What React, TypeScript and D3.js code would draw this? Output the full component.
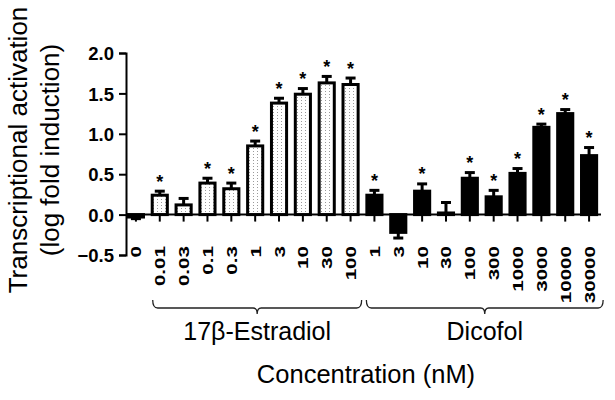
import { useEffect, useRef } from 'react';
import * as d3 from 'd3';

const estradiolDoses = ['0', '0.01', '0.03', '0.1', '0.3', '1', '3', '10', '30', '100'];
const estradiolMeans = [-0.03, 0.24, 0.12, 0.39, 0.32, 0.85, 1.38, 1.49, 1.63, 1.61];
const estradiolErrors = [0.02, 0.05, 0.08, 0.06, 0.07, 0.06, 0.06, 0.07, 0.08, 0.08];
const estradiolStars = [false, true, false, true, true, true, true, true, true, true];

const dicofolDoses = ['1', '3', '10', '30', '100', '300', '1000', '3000', '10000', '30000'];
const dicofolMeans = [0.24, -0.22, 0.29, 0.02, 0.45, 0.22, 0.51, 1.08, 1.25, 0.73];
const dicofolErrors = [0.06, 0.07, 0.09, 0.13, 0.07, 0.08, 0.06, 0.04, 0.05, 0.1];
const dicofolStars = [true, false, true, false, true, true, true, true, true, true];

const yTicks = [-0.5, 0, 0.5, 1, 1.5, 2];

const FONT = "Arial, 'Liberation Sans', sans-serif";

type Bar = { id: string; dose: string; group: string; mean: number; err: number; star: boolean };

const bars: Bar[] = [
  ...estradiolDoses.map((d, i) => ({
    id: 'e' + i, dose: d, group: 'E2', mean: estradiolMeans[i], err: estradiolErrors[i], star: estradiolStars[i]
  })),
  ...dicofolDoses.map((d, i) => ({
    id: 'd' + i, dose: d, group: 'Dicofol', mean: dicofolMeans[i], err: dicofolErrors[i], star: dicofolStars[i]
  }))
];

export default function App() {
  const ref = useRef<SVGSVGElement>(null);

  useEffect(() => {
    const width = 615;
    const height = 400;
    const svg = d3.select(ref.current).attr('width', width).attr('height', height);
    svg.selectAll('*').remove();

    const defs = svg.append('defs');
    const pat = defs.append('pattern')
      .attr('id', 'dots')
      .attr('patternUnits', 'userSpaceOnUse')
      .attr('width', 4)
      .attr('height', 3);
    pat.append('rect').attr('width', 4).attr('height', 3).attr('fill', '#fff');
    pat.append('rect').attr('x', 1).attr('y', 1).attr('width', 1).attr('height', 1).attr('fill', '#9a9a9a');

    const xScale = d3.scaleBand<string>()
      .domain(bars.map((d) => d.id))
      .range([124, 601])
      .paddingInner(0.24)
      .paddingOuter(0.12);
    const yScale = d3.scaleLinear().domain([-0.5, 2]).range([255, 53]);
    const bw = xScale.bandwidth();
    const cx = (d: Bar) => (xScale(d.id) as number) + bw / 2;
    const axisX = 126;

    // y axis
    const yAxis = d3.axisLeft(yScale)
      .tickValues(yTicks)
      .tickFormat(d3.format('.1f'))
      .tickSize(7)
      .tickSizeOuter(7)
      .tickPadding(5);
    const yg = svg.append('g').attr('transform', `translate(${axisX},0)`).call(yAxis);
    yg.selectAll('path, line').attr('stroke', '#000').attr('stroke-width', 2);
    yg.selectAll('text')
      .attr('font-family', FONT)
      .attr('font-size', 18.5)
      .attr('font-weight', 'bold')
      .attr('fill', '#000')
      .attr('dy', '0.36em');

    // bars
    svg.selectAll('rect.bar')
      .data(bars)
      .join('rect')
      .attr('class', 'bar')
      .attr('x', (d) => (xScale(d.id) as number) + 1.5)
      .attr('width', bw - 3)
      .attr('y', (d) => yScale(Math.max(d.mean, 0)))
      .attr('height', (d) => Math.abs(yScale(d.mean) - yScale(0)))
      .attr('fill', (d) => (d.group === 'E2' ? 'url(#dots)' : '#000'))
      .attr('stroke', '#000')
      .attr('stroke-width', 3);

    // error bars
    const errEnd = (d: Bar) => yScale(d.mean >= 0 ? d.mean + d.err : d.mean - d.err);
    const eg = svg.append('g').attr('stroke', '#000').attr('stroke-width', 3);
    eg.selectAll('line.v')
      .data(bars)
      .join('line')
      .attr('class', 'v')
      .attr('x1', cx)
      .attr('x2', cx)
      .attr('y1', (d) => yScale(d.mean))
      .attr('y2', errEnd);
    eg.selectAll('line.cap')
      .data(bars)
      .join('line')
      .attr('class', 'cap')
      .attr('x1', (d) => cx(d) - 5)
      .attr('x2', (d) => cx(d) + 5)
      .attr('y1', errEnd)
      .attr('y2', errEnd);

    // asterisks
    svg.selectAll('text.star')
      .data(bars.filter((d) => d.star))
      .join('text')
      .attr('class', 'star')
      .attr('x', cx)
      .attr('y', (d) => yScale(d.mean + d.err) - 3.5)
      .attr('text-anchor', 'middle')
      .attr('font-family', FONT)
      .attr('font-size', 18)
      .attr('font-weight', 'bold')
      .text('*');

    // x axis at zero
    const y0 = yScale(0);
    svg.append('line')
      .attr('x1', axisX).attr('x2', 601)
      .attr('y1', y0).attr('y2', y0)
      .attr('stroke', '#000').attr('stroke-width', 2);
    svg.selectAll('line.xtick')
      .data(bars)
      .join('line')
      .attr('class', 'xtick')
      .attr('x1', cx).attr('x2', cx)
      .attr('y1', y0).attr('y2', y0 + 7)
      .attr('stroke', '#000').attr('stroke-width', 2);

    // dose labels
    svg.selectAll('text.dose')
      .data(bars)
      .join('text')
      .attr('class', 'dose')
      .attr('transform', (d) => `translate(${cx(d) + 5.5},246) rotate(-90) scale(1.33,1)`)
      .attr('text-anchor', 'end')
      .attr('font-family', FONT)
      .attr('font-size', 15.5)
      .attr('font-weight', 'bold')
      .text((d) => d.dose);

    // group braces
    const brace = (x0: number, x1: number) => {
      const mid = (x0 + x1) / 2;
      const yl = 308;
      return `M${x0},300 Q${x0},${yl} ${x0 + 5},${yl} L${mid - 4},${yl} Q${mid},${yl} ${mid},${yl + 6} ` +
        `Q${mid},${yl} ${mid + 4},${yl} L${x1 - 5},${yl} Q${x1},${yl} ${x1},300`;
    };
    const groups = [
      { name: '17β-Estradiol', from: 'e1', to: 'e9', padL: 2, padR: 2 },
      { name: 'Dicofol', from: 'd0', to: 'd9', padL: 1, padR: 5 }
    ];
    groups.forEach((g) => {
      const x0 = (xScale(g.from) as number) + g.padL;
      const x1 = (xScale(g.to) as number) + bw + g.padR;
      svg.append('path')
        .attr('d', brace(x0, x1))
        .attr('fill', 'none')
        .attr('stroke', '#222')
        .attr('stroke-width', 1.3);
      svg.append('text')
        .attr('x', (x0 + x1) / 2)
        .attr('y', 340)
        .attr('text-anchor', 'middle')
        .attr('font-family', FONT)
        .attr('font-size', 25)
        .text(g.name);
    });

    svg.append('text')
      .attr('x', 366)
      .attr('y', 383)
      .attr('text-anchor', 'middle')
      .attr('font-family', FONT)
      .attr('font-size', 25.5)
      .text('Concentration (nM)');

    // y title
    const yTitle = svg.append('text')
      .attr('transform', 'translate(0,150) rotate(-90)')
      .attr('text-anchor', 'middle')
      .attr('font-family', FONT)
      .attr('font-size', 26);
    yTitle.append('tspan').attr('x', 0).attr('y', 27).text('Transcriptional activation');
    yTitle.append('tspan').attr('x', 0).attr('y', 59).text('(log fold induction)');
  }, []);

  return <svg ref={ref} style={{ position: 'absolute', left: 0, top: 0, background: '#fff' }} />;
}
